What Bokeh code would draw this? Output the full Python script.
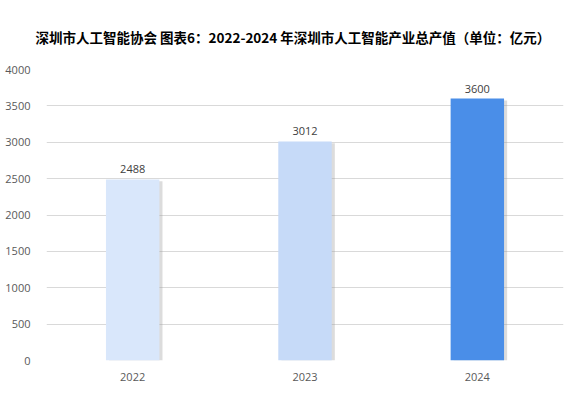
from bokeh.plotting import figure
from bokeh.models import ColumnDataSource, FixedTicker, Range1d
from bokeh.transform import dodge
from bokeh.embed import file_html
from bokeh.resources import INLINE

years = ["2022", "2023", "2024"]
values = [2488, 3012, 3600]
colors = ["#d9e7fb", "#c6daf8", "#4a8ee8"]
y_ticks = [0, 500, 1000, 1500, 2000, 2500, 3000, 3500, 4000]
title_text = "深圳市人工智能协会  图表6：2022-2024 年深圳市人工智能产业总产值（单位：亿元）"

src = ColumnDataSource(dict(
    years=years, values=values, colors=colors,
    shadow=[v - 25 for v in values],
    labels=[str(v) for v in values],
))

p = figure(x_range=years, y_range=Range1d(0, 4000), width=564, height=386,
           output_backend="svg", toolbar_location=None, title=title_text,
           min_border_left=46, min_border_right=1, min_border_top=69, min_border_bottom=26)
p.outline_line_color = None
p.background_fill_color = "white"
p.border_fill_color = "white"

p.title.text_font = "Noto Sans CJK SC"
p.title.text_font_size = "13.5px"
p.title.text_font_style = "bold"
p.title.text_color = "#000000"
p.title.align = "left"
p.title.offset = -11
p.title.standoff = 45

# shadow
p.vbar(x=dodge("years", 0.018, range=p.x_range), top="shadow", width=0.31,
       source=src, fill_color="#9a9a9a", fill_alpha=0.35, line_color=None)
p.vbar(x="years", top="values", width=0.31, source=src,
       fill_color="colors", line_color=None)

p.text(x="years", y="values", text="labels", source=src, y_offset=-6,
       text_align="center", text_baseline="bottom", text_font_size="11px",
       text_color="#404040", text_font={"value": "Open Sans"})

p.yaxis.ticker = FixedTicker(ticks=y_ticks)
p.ygrid.grid_line_color = "#d9d9d9"
p.xgrid.grid_line_color = None
for ax in (p.xaxis, p.yaxis):
    ax.axis_line_color = None
    ax.major_tick_line_color = None
    ax.minor_tick_line_color = None
    ax.major_label_text_font = "Open Sans"
    ax.major_label_text_font_size = "11px"
    ax.major_label_text_color = "#595959"
p.yaxis.major_label_standoff = 10
p.xaxis.major_label_standoff = 6

open("out.html", "w").write(file_html(p, INLINE))
